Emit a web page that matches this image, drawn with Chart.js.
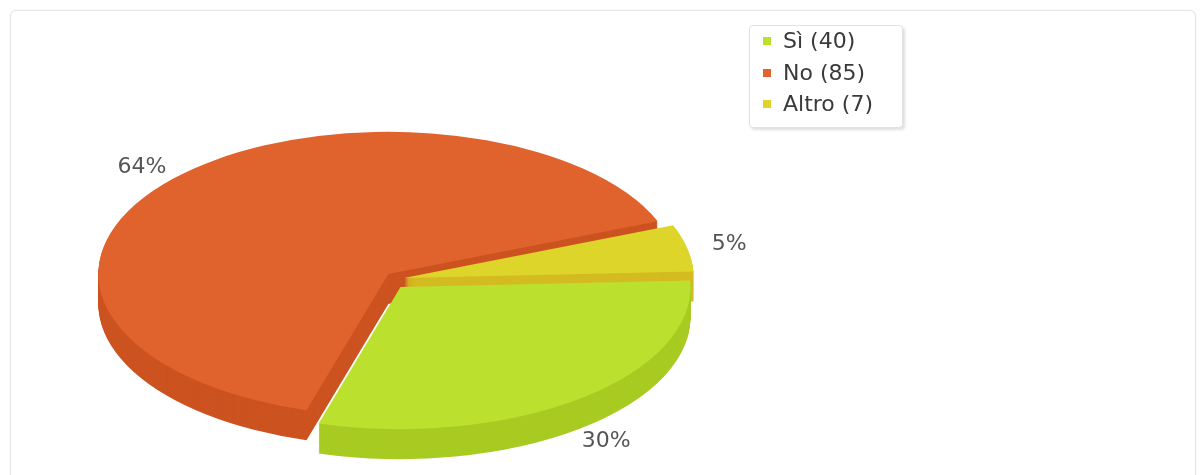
<!DOCTYPE html>
<html>
<head>
<meta charset="utf-8">
<script src="https://cdn.jsdelivr.net/npm/chart.js@4.4.1/dist/chart.umd.min.js"></script>
<style>
  html, body { margin: 0; padding: 0; background: #fff; }
  body { width: 1204px; height: 475px; position: relative; overflow: hidden; font-family: "DejaVu Sans", sans-serif; }
  #marco { position: absolute; left: 10px; top: 10px; width: 1184px; height: 520px; border: 1px solid #e4e4e4; border-radius: 6px; box-shadow: 0 0 2px rgba(0,0,0,0.06); }
  #graphTorta { position: absolute; left: 0; top: 0; }
  #leyenda { position: absolute; left: 749px; top: 25px; width: 152px; height: 101px; background: #fff; border: 1px solid #e2e2e2; border-radius: 4px; box-shadow: 2px 2px 3px rgba(0,0,0,0.13); }
  .item { position: absolute; left: 0; height: 26px; line-height: 26px; font-size: 22px; color: #3a3a3a; white-space: nowrap; }
  .item .cuadro { position: absolute; left: 13px; top: 9px; width: 8px; height: 8px; }
  .item .txt { position: absolute; left: 33px; }
</style>
</head>
<body>
<div id="marco"></div>
<canvas id="graphTorta" width="1204" height="475"></canvas>
<div id="leyenda"></div>
<script>
// Datos de la encuesta
var etiquetas = ['Sì', 'No', 'Altro'];
var valores = [40, 85, 7];
var colores = ['#bbe02d', '#e0622c', '#ddd52a'];
var coloresLado = ['#a8cb22', '#cc5320', '#d4bb22'];

var SEPARACION = 9;  // cuanto se aleja cada porcion del centro (px en pantalla)
var APLASTE = 0.49;  // cuanto se aplasta el circulo en vertical
var GROSOR = 30;     // alto del canto de la torta en px

var total = valores.reduce(function (a, b) { return a + b }, 0);

// Leyenda en html
var leyenda = document.getElementById('leyenda');
for (var i = 0; i < etiquetas.length; i++) {
  var item = document.createElement('div');
  item.className = 'item';
  item.style.top = (2 + i * 31.5) + 'px';
  item.innerHTML = '<span class="cuadro" style="background:' + colores[i] + '"></span>' +
    '<span class="txt">' + etiquetas[i] + ' (' + valores[i] + ')</span>';
  leyenda.appendChild(item);
}

// dibuja una capa de la torta (d = cuanto baja), con los colores del canto o los normales
function dibujarCapa(ctx, arcos, d, lado) {
  var cx = arcos[0].x, cy = arcos[0].y;
  arcos.forEach(function (arco, j) {
    var medio = (arco.startAngle + arco.endAngle) / 2;
    ctx.save();
    // cada porcion separada del centro
    ctx.translate(Math.cos(medio) * SEPARACION, Math.sin(medio) * SEPARACION);
    ctx.translate(cx, cy + d);
    ctx.scale(1, APLASTE);
    ctx.translate(-cx, -cy);
    var orig = arco.options;
    if (lado) {
      arco.options = Object.assign({}, orig, { backgroundColor: coloresLado[j], borderWidth: 0 });
    }
    arco.draw(ctx);
    arco.options = orig;
    ctx.restore();
  });
}

// Plugin que dibuja la torta en 3D: canto apilado + cara superior aplastada
var torta3d = {
  id: 'torta3d',
  beforeDatasetsDraw: function (chart) {
    var ctx = chart.ctx;
    var arcos = chart.getDatasetMeta(0).data;
    for (var d = GROSOR; d >= 1; d--) {
      dibujarCapa(ctx, arcos, d, true);
    }
    dibujarCapa(ctx, arcos, 0, false);
    return false;
  },
  afterDraw: function (chart) {
    var ctx = chart.ctx;
    var arcos = chart.getDatasetMeta(0).data;
    ctx.save();
    ctx.font = '22px "DejaVu Sans"';
    ctx.fillStyle = '#555';
    ctx.textAlign = 'center';
    ctx.textBaseline = 'middle';
    arcos.forEach(function (arco, j) {
      var medio = (arco.startAngle + arco.endAngle) / 2;
      var r = arco.outerRadius + 52;
      var c = Math.cos(medio), s = Math.sin(medio);
      var x = arco.x + c * r;
      var y = arco.y + s * r * APLASTE + (s > 0 ? GROSOR : 0);
      ctx.fillText(Math.round(valores[j] / total * 100) + '%', x, y);
    });
    ctx.restore();
  }
};

function createChart() {
  var ctx = document.getElementById('graphTorta').getContext('2d');
  new Chart(ctx, {
    type: 'pie',
    data: {
      labels: etiquetas,
      datasets: [{
        data: valores,
        backgroundColor: colores,
        borderWidth: 0,
        hoverOffset: 0,
        clip: false
      }]
    },
    options: {
      responsive: false,
      animation: false,
      events: [],
      rotation: 87.3,
      radius: 290,
      layout: { padding: { left: 0, right: 414, top: 85, bottom: 0 } },
      plugins: {
        legend: { display: false },
        tooltip: { enabled: false }
      }
    },
    plugins: [torta3d]
  });
}

createChart();
</script>
</body>
</html>
